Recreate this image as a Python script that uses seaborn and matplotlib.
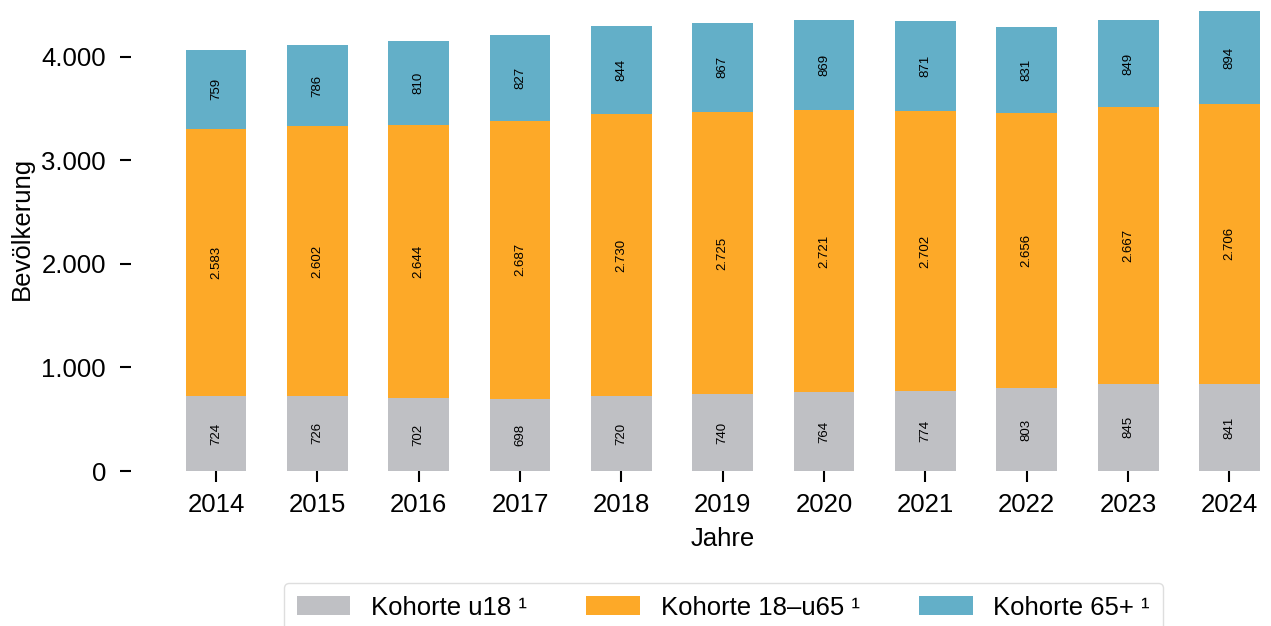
import pandas as pd
import seaborn as sns
import matplotlib.pyplot as plt
from matplotlib.ticker import FuncFormatter

jahre = ["2014", "2015", "2016", "2017", "2018", "2019", "2020", "2021", "2022", "2023", "2024"]
u18 = [724, 726, 702, 698, 720, 740, 764, 774, 803, 845, 841]
mitte = [2583, 2602, 2644, 2687, 2730, 2725, 2721, 2702, 2656, 2667, 2706]
alt = [759, 786, 810, 827, 844, 867, 869, 871, 831, 849, 894]

serien = ["Kohorte u18 \u00b9", "Kohorte 18\u2013u65 \u00b9", "Kohorte 65+ \u00b9"]
farben = ["#bfc0c4", "#fda928", "#63afc8"]

df = pd.DataFrame({"Jahr": jahre, "u18": u18, "mitte": mitte, "alt": alt})

sns.set_style("white")
plt.rcParams["font.family"] = ["Liberation Sans", "DejaVu Sans"]
plt.rcParams["text.color"] = "black"
plt.rcParams["axes.labelcolor"] = "black"
plt.rcParams["xtick.color"] = "black"
plt.rcParams["ytick.color"] = "black"


def de_zahl(v, pos=None):
    return f"{int(round(v)):,}".replace(",", ".")


fig = plt.figure(figsize=(12.71, 6.26), dpi=100)
ax = fig.add_axes([0.103, 0.2476, 0.897, 0.7344])

unten = [0] * len(jahre)
for spalte, name, farbe in zip(["u18", "mitte", "alt"], serien, farben):
    sns.barplot(data=df, x="Jahr", y=spalte, bottom=unten, color=farbe,
                width=0.6, label=name, ax=ax, saturation=1, linewidth=0)
    unten = [a + b for a, b in zip(unten, df[spalte])]

for cont in ax.containers:
    ax.bar_label(cont, labels=[de_zahl(b.get_height()) for b in cont],
                 label_type="center", rotation=90, fontsize=9.5, color="black")

ax.set_xlim(-0.84, 10.41)
ax.set_ylim(0, max(unten))
ax.set_yticks([0, 1000, 2000, 3000, 4000])
ax.yaxis.set_major_formatter(FuncFormatter(de_zahl))
sns.despine(ax=ax, left=True, bottom=True)
ax.tick_params(axis="both", labelsize=18.5, length=8, width=1.5, color="black", bottom=True, left=True)
ax.tick_params(axis="y", pad=10)
ax.tick_params(axis="x", pad=8)
ax.set_xlabel("Jahre", fontsize=18.5)
ax.set_ylabel("Bev\u00f6lkerung", fontsize=18.5)
ax.xaxis.set_label_coords(0.519, -0.121)
ax.yaxis.set_label_coords(-0.085, 0.528)

leg = ax.legend(loc="upper center", bbox_to_anchor=(0.569, 0.069), bbox_transform=fig.transFigure,
                ncol=3, fontsize=18.5, frameon=True, fancybox=True, edgecolor="#d6d6d6",
                handlelength=2.1, handleheight=0.78, handletextpad=0.8, columnspacing=2.3,
                borderpad=0.5, borderaxespad=0)

fig.savefig("out.png", dpi=100)
